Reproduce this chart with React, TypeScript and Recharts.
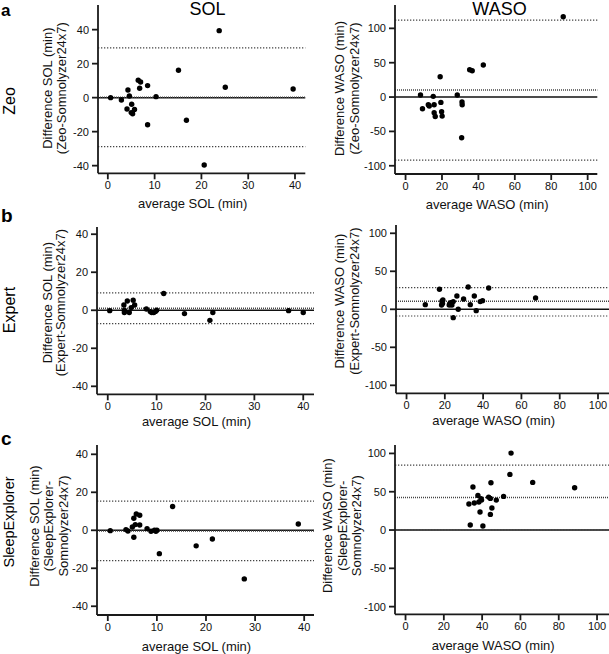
import { ReferenceLine, Scatter, ScatterChart, XAxis, YAxis } from 'recharts';

const FONT = '"Liberation Sans", Arial, Helvetica, sans-serif';

// SOL / WASO tick labels
const solXTicks = [0, 10, 20, 30, 40];
const solYTicks = [-40, -20, 0, 20, 40];
const wasoXTicks = [0, 20, 40, 60, 80, 100];
const wasoYTicks = [-100, -50, 0, 50, 100];

// a: Zeo vs Somnolyzer24x7
const zeoSolAvg = [0.6, 2.9, 4.1, 4.3, 4.6, 5.1, 5.0, 5.3, 5.7, 6.5, 7.0, 6.8, 8.5, 8.5, 10.3, 15.1, 16.8, 20.6, 23.8, 25.1, 39.6];
const zeoSolDiff = [0, -1.4, -6.7, 4.5, 1.0, -3.9, -8.8, -9.5, -6.9, 10.2, 9.2, 5.5, 7.1, -15.9, 0.6, 16.1, -13.3, -39.6, 39.4, 6.1, 5.1];
const zeoSolLines = [0.25, 29.3, -28.8];

const zeoWasoAvg = [8.2, 9.3, 12.5, 13.0, 15.2, 15.7, 15.7, 16.3, 19.0, 19.4, 19.8, 20.1, 28.4, 31.0, 31.1, 30.8, 35.2, 36.6, 42.7, 86.6];
const zeoWasoDiff = [2.9, -17, -11.2, -13.1, 1, -11.2, -22.8, -28.2, 29.6, -7.8, -21.4, -27.7, 2.9, -7.3, -11.2, -59.2, 39.8, 38.3, 46.6, 117];
const zeoWasoLines = [10.2, 112, -91.7];

// b: Expert vs Somnolyzer24x7
const expSolAvg = [0.4, 3.3, 3.4, 3.4, 4.0, 4.4, 4.8, 5.2, 5.5, 7.9, 8.7, 9.0, 9.4, 9.75, 10.0, 11.45, 15.7, 20.9, 21.5, 37.0, 40.0];
const expSolDiff = [-0.2, 2.8, 0, -1.2, 4.9, -1.2, 1.4, 5.3, 2.8, 0.7, -0.7, -1.2, -1.2, -0.7, 0, 8.8, -1.75, -5.3, -1.2, -0.2, -1.2];
const expSolLines = [1.0, 9.1, -7.0];

const expWasoAvg = [9.8, 17.2, 18.5, 19.0, 18.3, 18.8, 22.3, 23.0, 23.7, 24.4, 22.6, 24.4, 26.3, 27.0, 29.8, 32.2, 33.3, 35.4, 36.4, 38.5, 39.7, 42.9, 67.4];
const expWasoDiff = [6.1, 26.3, 10.5, 12.3, 5.7, 7.5, 5.7, 8.8, 5.7, 10.1, 7.5, -11, 17.5, 0, 13.6, 29.4, 6.1, 17.5, -1.8, 10.1, 11.4, 28.1, 14.9];
const expWasoLines = [10.5, 28.5, -8.8];

// c: SleepExplorer vs Somnolyzer24x7
const seSolAvg = [0.5, 3.7, 4.1, 5.0, 5.3, 5.3, 5.6, 5.8, 6.5, 6.5, 8.0, 8.8, 9.5, 9.8, 10.0, 10.5, 13.2, 18.0, 21.3, 27.8, 38.8];
const seSolDiff = [-0.2, 0.35, -0.35, 1.75, 6.3, -3.7, 3.0, 8.6, 7.9, 2.8, 0.9, -0.5, 0, -0.5, 0, -12.3, 12.5, -8.2, -4.6, -25.6, 3.3];
const seSolLines = [-0.4, 15.3, -16.0];

const seWasoAvg = [33.1, 33.8, 35.2, 35.9, 37.8, 38.3, 38.9, 39.4, 39.7, 40.4, 43.4, 44.3, 44.6, 45.1, 44.3, 47.4, 51.2, 54.5, 55.1, 66.4, 88.3];
const seWasoDiff = [33.9, 6.5, 56.1, 35.2, 45.2, 36.5, 23.5, 40.9, 39.1, 5.2, 43, 41.3, 61.7, 28.7, 20.4, 39.1, 43.9, 72.6, 100.4, 62.2, 55.2];
const seWasoLines = [42.5, 84.8, 0.2];

const LEFT = 97;
const Y_W = 40;
const TOP = 5;
const RIGHT = 6;
const X_H = 45;
const AXIS = { stroke: '#1a1a1a', strokeWidth: 1.8 };
const TICK = { fontSize: 11, fill: '#111', fontFamily: FONT };

const Dot = (p: any) => <circle cx={p.cx} cy={p.cy} r={2.7} fill="#000" />;

type PanelProps = {
  plot: { x: number; y: number; w: number; h: number };
  xDomain: [number, number];
  yDomain: [number, number];
  xTicks: number[];
  yTicks: number[];
  avg: number[];
  diff: number[];
  lines: number[];
  yLines: string[];
  yOffsets: number[];
  yShift: number;
  xLabel: string;
  xLabelDy: number;
};

const Panel = ({ plot, xDomain, yDomain, xTicks, yTicks, avg, diff, lines, yLines, yOffsets, yShift, xLabel, xLabelDy }: PanelProps) => {
  const data = avg.map((a, i) => ({ x: a, y: diff[i] }));
  const [mean, upper, lower] = lines;
  return (
    <div style={{ position: 'absolute', left: plot.x - LEFT, top: plot.y - TOP }}>
      <ScatterChart
        width={plot.w + LEFT + RIGHT}
        height={plot.h + TOP + X_H}
        margin={{ top: TOP, right: RIGHT, bottom: 0, left: LEFT - Y_W }}
      >
        <XAxis
          type="number"
          dataKey="x"
          domain={xDomain}
          ticks={xTicks}
          interval={0}
          allowDataOverflow
          height={X_H}
          tickSize={6}
          tickMargin={2}
          axisLine={AXIS}
          tickLine={AXIS}
          tick={TICK}
          label={(p: any) => {
            const vb = p.viewBox;
            return (
              <text x={vb.x + vb.width / 2 - 9} y={vb.y + xLabelDy} textAnchor="middle" fontSize={13} fontFamily={FONT} fill="#111">
                {xLabel}
              </text>
            );
          }}
        />
        <YAxis
          type="number"
          dataKey="y"
          domain={yDomain}
          ticks={yTicks}
          interval={0}
          allowDataOverflow
          width={Y_W}
          tickSize={6}
          tickMargin={3}
          axisLine={AXIS}
          tickLine={AXIS}
          tick={TICK}
          label={(p: any) => {
            const vb = p.viewBox;
            const ax = vb.x + vb.width;
            const cy = vb.y + vb.height / 2 + yShift;
            return (
              <g>
                {yLines.map((t, i) => {
                  const cx = ax + yOffsets[i];
                  return (
                    <text key={i} x={cx} y={cy} transform={`rotate(-90, ${cx}, ${cy})`} textAnchor="middle" dominantBaseline="central" fontSize={13} fontFamily={FONT} fill="#111">
                      {t}
                    </text>
                  );
                })}
              </g>
            );
          }}
        />
        <ReferenceLine y={0} stroke="#111" strokeWidth={1.5} />
        <ReferenceLine y={mean} stroke="#444" strokeWidth={1.5} strokeDasharray="1 1" />
        <ReferenceLine y={upper} stroke="#444" strokeWidth={1.2} strokeDasharray="1.3 1.7" />
        <ReferenceLine y={lower} stroke="#444" strokeWidth={1.2} strokeDasharray="1.3 1.7" />
        <Scatter data={data} shape={Dot} isAnimationActive={false} />
      </ScatterChart>
    </div>
  );
};

const txt = { fontFamily: FONT, fill: '#000' };

export default function App() {
  return (
    <div style={{ position: 'absolute', left: 0, top: 0, width: 609, height: 654, overflow: 'hidden', background: '#fff', fontFamily: FONT }}>
      <Panel
        plot={{ x: 97.7, y: 5, w: 207.3, h: 168.3 }}
        xDomain={[-2.1, 42.2]}
        yDomain={[-44.5, 54.5]}
        xTicks={solXTicks}
        yTicks={solYTicks}
        avg={zeoSolAvg}
        diff={zeoSolDiff}
        lines={zeoSolLines}
        yLines={['Difference SOL (min)', '(Zeo-Somnolyzer24x7)']}
        yOffsets={[-50, -36]}
        yShift={-1}
        xLabel="average SOL (min)"
        xLabelDy={35}
      />
      <Panel
        plot={{ x: 394.7, y: 5, w: 202.3, h: 169 }}
        xDomain={[-5.8, 105.3]}
        yDomain={[-112, 134]}
        xTicks={wasoXTicks}
        yTicks={wasoYTicks}
        avg={zeoWasoAvg}
        diff={zeoWasoDiff}
        lines={zeoWasoLines}
        yLines={['Difference WASO (min)', '(Zeo-Somnolyzer24x7)']}
        yOffsets={[-55.7, -40.7]}
        yShift={-1}
        xLabel="average WASO (min)"
        xLabelDy={35}
      />
      <Panel
        plot={{ x: 97, y: 226.7, w: 217, h: 167.3 }}
        xDomain={[-2.2, 42.2]}
        yDomain={[-44.2, 43.8]}
        xTicks={solXTicks}
        yTicks={solYTicks}
        avg={expSolAvg}
        diff={expSolDiff}
        lines={expSolLines}
        yLines={['Difference SOL (min)', '(Expert-Somnolyzer24x7)']}
        yOffsets={[-49.5, -36]}
        yShift={-8}
        xLabel="average SOL (min)"
        xLabelDy={32}
      />
      <Panel
        plot={{ x: 395.7, y: 225, w: 213.3, h: 168.3 }}
        xDomain={[-5.5, 105.9]}
        yDomain={[-110.5, 110.9]}
        xTicks={wasoXTicks}
        yTicks={wasoYTicks}
        avg={expWasoAvg}
        diff={expWasoDiff}
        lines={expWasoLines}
        yLines={['Difference WASO (min)', '(Expert-Somnolyzer24x7)']}
        yOffsets={[-56, -41]}
        yShift={-8}
        xLabel="average WASO (min)"
        xLabelDy={32}
      />
      <Panel
        plot={{ x: 97, y: 445, w: 217, h: 170 }}
        xDomain={[-2.2, 42.0]}
        yDomain={[-44.6, 44.9]}
        xTicks={solXTicks}
        yTicks={solYTicks}
        avg={seSolAvg}
        diff={seSolDiff}
        lines={seSolLines}
        yLines={['Difference SOL (min)', '(SleepExplorer-', 'Somnolyzer24x7)']}
        yOffsets={[-63, -48.5, -34]}
        yShift={-4}
        xLabel="average SOL (min)"
        xLabelDy={36}
      />
      <Panel
        plot={{ x: 394.7, y: 445, w: 214.3, h: 169.3 }}
        xDomain={[-5.5, 106.4]}
        yDomain={[-110, 111]}
        xTicks={wasoXTicks}
        yTicks={wasoYTicks}
        avg={seWasoAvg}
        diff={seWasoDiff}
        lines={seWasoLines}
        yLines={['Difference WASO (min)', '(SleepExplorer-', 'Somnolyzer24x7)']}
        yOffsets={[-67, -52.5, -38]}
        yShift={-4}
        xLabel="average WASO (min)"
        xLabelDy={36}
      />
      <svg width={609} height={654} style={{ position: 'absolute', left: 0, top: 0, pointerEvents: 'none' }}>
        <text x={1} y={15.5} fontSize={17} fontWeight="bold" {...txt}>a</text>
        <text x={1} y={222} fontSize={19} fontWeight="bold" {...txt}>b</text>
        <text x={1} y={445} fontSize={19} fontWeight="bold" {...txt}>c</text>
        <text x={207.5} y={15} fontSize={18} textAnchor="middle" {...txt}>SOL</text>
        <text x={499.5} y={15} fontSize={18} textAnchor="middle" {...txt}>WASO</text>
        <text x={9} y={101} fontSize={16} textAnchor="middle" dominantBaseline="central" transform="rotate(-90, 9, 101)" {...txt}>Zeo</text>
        <text x={9} y={310} fontSize={16} textAnchor="middle" dominantBaseline="central" transform="rotate(-90, 9, 310)" {...txt}>Expert</text>
        <text x={9} y={522} fontSize={14.5} textAnchor="middle" dominantBaseline="central" transform="rotate(-90, 9, 522)" {...txt}>SleepExplorer</text>
      </svg>
    </div>
  );
}
